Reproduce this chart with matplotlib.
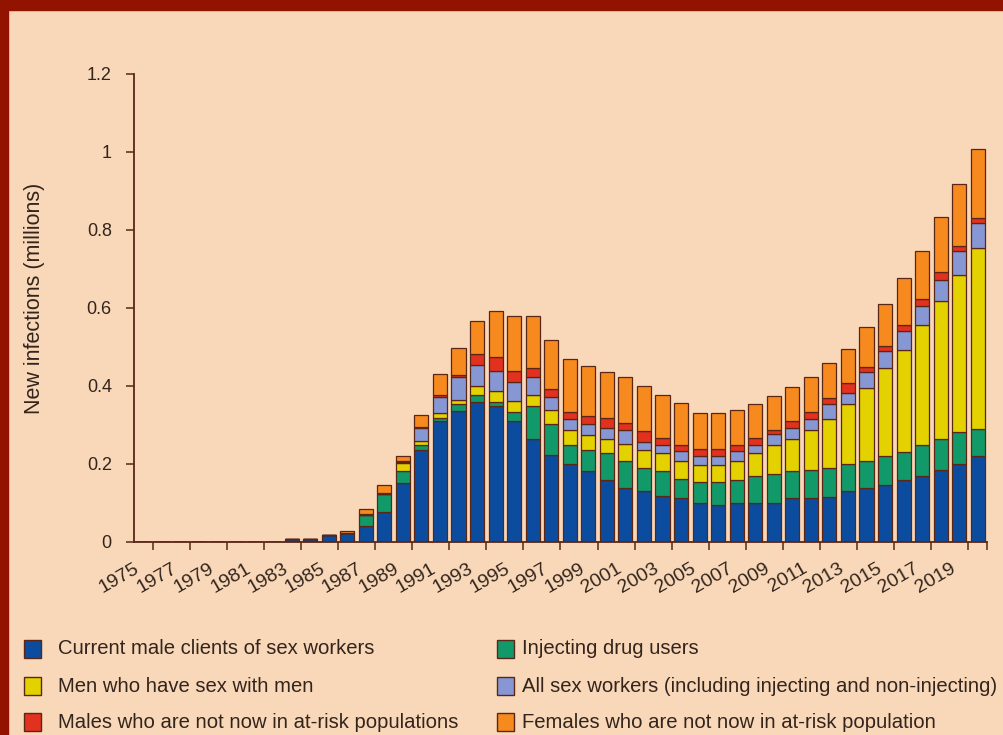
import numpy as np
import matplotlib
matplotlib.use("Agg")
import matplotlib.pyplot as plt
from matplotlib.patches import Rectangle

plt.rcParams['font.family'] = ['Liberation Sans', 'DejaVu Sans']

years = list(range(1975, 2021))

# new infections (millions) per group, one value per year 1975..2020
clients = [0, 0, 0, 0, 0, 0, 0, 0, 0.008, 0.008, 0.018, 0.022, 0.041, 0.078, 0.152, 0.235,
           0.309, 0.336, 0.358, 0.349, 0.311, 0.265, 0.222, 0.200, 0.182, 0.160, 0.139, 0.130,
           0.118, 0.114, 0.101, 0.095, 0.101, 0.101, 0.101, 0.114, 0.114, 0.116, 0.131, 0.139,
           0.146, 0.160, 0.169, 0.184, 0.200, 0.221]
idu = [0, 0, 0, 0, 0, 0, 0, 0, 0, 0, 0, 0, 0.028, 0.046, 0.029, 0.014,
       0.010, 0.018, 0.019, 0.011, 0.022, 0.084, 0.081, 0.050, 0.053, 0.067, 0.068, 0.061,
       0.064, 0.048, 0.053, 0.059, 0.059, 0.068, 0.074, 0.068, 0.070, 0.074, 0.068, 0.068,
       0.074, 0.070, 0.081, 0.080, 0.081, 0.069]
msm = [0, 0, 0, 0, 0, 0, 0, 0, 0, 0, 0, 0, 0, 0, 0.022, 0.009,
       0.013, 0.010, 0.023, 0.026, 0.029, 0.029, 0.036, 0.036, 0.039, 0.038, 0.044, 0.044,
       0.045, 0.045, 0.043, 0.043, 0.047, 0.058, 0.073, 0.083, 0.102, 0.125, 0.155, 0.187,
       0.225, 0.263, 0.307, 0.353, 0.404, 0.463]
sex_workers = [0, 0, 0, 0, 0, 0, 0, 0, 0, 0, 0, 0, 0, 0, 0.002, 0.034,
               0.041, 0.058, 0.053, 0.053, 0.047, 0.044, 0.032, 0.029, 0.029, 0.028, 0.035, 0.022,
               0.021, 0.026, 0.023, 0.023, 0.026, 0.023, 0.030, 0.027, 0.029, 0.039, 0.027, 0.042,
               0.045, 0.049, 0.048, 0.054, 0.060, 0.065]
males_other = [0, 0, 0, 0, 0, 0, 0, 0, 0, 0, 0, 0.001, 0.002, 0.002, 0.002, 0.003,
               0.004, 0.006, 0.029, 0.036, 0.030, 0.024, 0.021, 0.018, 0.021, 0.025, 0.020, 0.027,
               0.018, 0.017, 0.019, 0.019, 0.017, 0.017, 0.010, 0.019, 0.018, 0.015, 0.026, 0.013,
               0.012, 0.015, 0.018, 0.022, 0.014, 0.012]
females_other = [0, 0, 0, 0, 0, 0, 0, 0, 0, 0, 0, 0.006, 0.013, 0.020, 0.013, 0.031,
                 0.055, 0.070, 0.085, 0.118, 0.141, 0.134, 0.127, 0.135, 0.127, 0.118, 0.117, 0.116,
                 0.111, 0.106, 0.093, 0.093, 0.089, 0.087, 0.087, 0.086, 0.090, 0.089, 0.089, 0.102,
                 0.107, 0.120, 0.123, 0.140, 0.159, 0.178]

series = [clients, idu, msm, sex_workers, males_other, females_other]
labels = ["Current male clients of sex workers", "Injecting drug users",
          "Men who have sex with men", "All sex workers (including injecting and non-injecting)",
          "Males who are not now in at-risk populations", "Females who are not now in at-risk population"]
colors = ["#0b4c9f", "#12996a", "#e3d100", "#8797d4", "#e2311f", "#f78a1e"]

bg = "#f8d8b9"
ink = "#33241c"
edge = "#5a2616"

fig = plt.figure(figsize=(10.04, 7.35), dpi=100, facecolor=bg)
# dark red frame on top and left
fig.patches.append(Rectangle((0, 1 - 10 / 735), 1, 10 / 735, transform=fig.transFigure,
                             color="#921400", zorder=0))
fig.patches.append(Rectangle((0, 0), 8 / 1004, 1, transform=fig.transFigure,
                             color="#921400", zorder=0))

ax = fig.add_axes([134 / 1004, (735 - 542) / 735, (987 - 134) / 1004, (542 - 74) / 735])
ax.set_facecolor(bg)

x = np.arange(len(years))
bottom = np.zeros(len(years))
for vals, c, lab in zip(series, colors, labels):
    vals = np.array(vals)
    ax.bar(x, vals, width=0.76, bottom=bottom, color=c, edgecolor=edge, linewidth=0.9, label=lab)
    bottom += vals

ax.set_xlim(-0.5, len(years) - 0.5)
ax.set_ylim(0, 1.2)
ax.set_yticks([0, 0.2, 0.4, 0.6, 0.8, 1, 1.2])
ax.set_yticklabels(["0", "0.2", "0.4", "0.6", "0.8", "1", "1.2"], fontsize=13, color=ink)
ax.set_ylabel("New infections (millions)", fontsize=15.5, color=ink)
ax.yaxis.set_label_coords(-0.104, 0.52)

# tick marks between bars, year labels on odd years (anchored slightly left of bar centre)
ax.set_xticks(np.arange(len(years) + 1) - 0.5, minor=True)
ax.set_xticks([i - 0.5 for i, yr in enumerate(years) if yr % 2 == 1])
ax.set_xticklabels([str(yr) for yr in years if yr % 2 == 1], rotation=30, ha='right',
                   rotation_mode='anchor', fontsize=14, color=ink)
ax.tick_params(axis='x', which='major', length=0, pad=13)
ax.tick_params(axis='x', which='minor', length=6, width=1.1, color=edge, direction='out')
ax.tick_params(axis='y', length=6, width=1.1, color=edge, direction='out', pad=10)

for s in ['top', 'right']:
    ax.spines[s].set_visible(False)
for s in ['left', 'bottom']:
    ax.spines[s].set_color(edge)
    ax.spines[s].set_linewidth(1.3)

# legend, two columns drawn by hand
col_x = [24, 497]
row_y = [649, 686, 722]
order = [0, 2, 4, 1, 3, 5]
for k, idx in enumerate(order):
    cx = col_x[k // 3]
    cy = row_y[k % 3]
    fig.patches.append(Rectangle((cx / 1004, (735 - cy - 9) / 735), 17 / 1004, 18 / 735,
                                 transform=fig.transFigure, facecolor=colors[idx],
                                 edgecolor=edge, linewidth=1.0))
    fig.text((cx + (34 if k < 3 else 25)) / 1004, (735 - cy) / 735, labels[idx], fontsize=14.6,
             color=ink, va='center', ha='left')

fig.savefig("out.png", dpi=100, facecolor=bg)
